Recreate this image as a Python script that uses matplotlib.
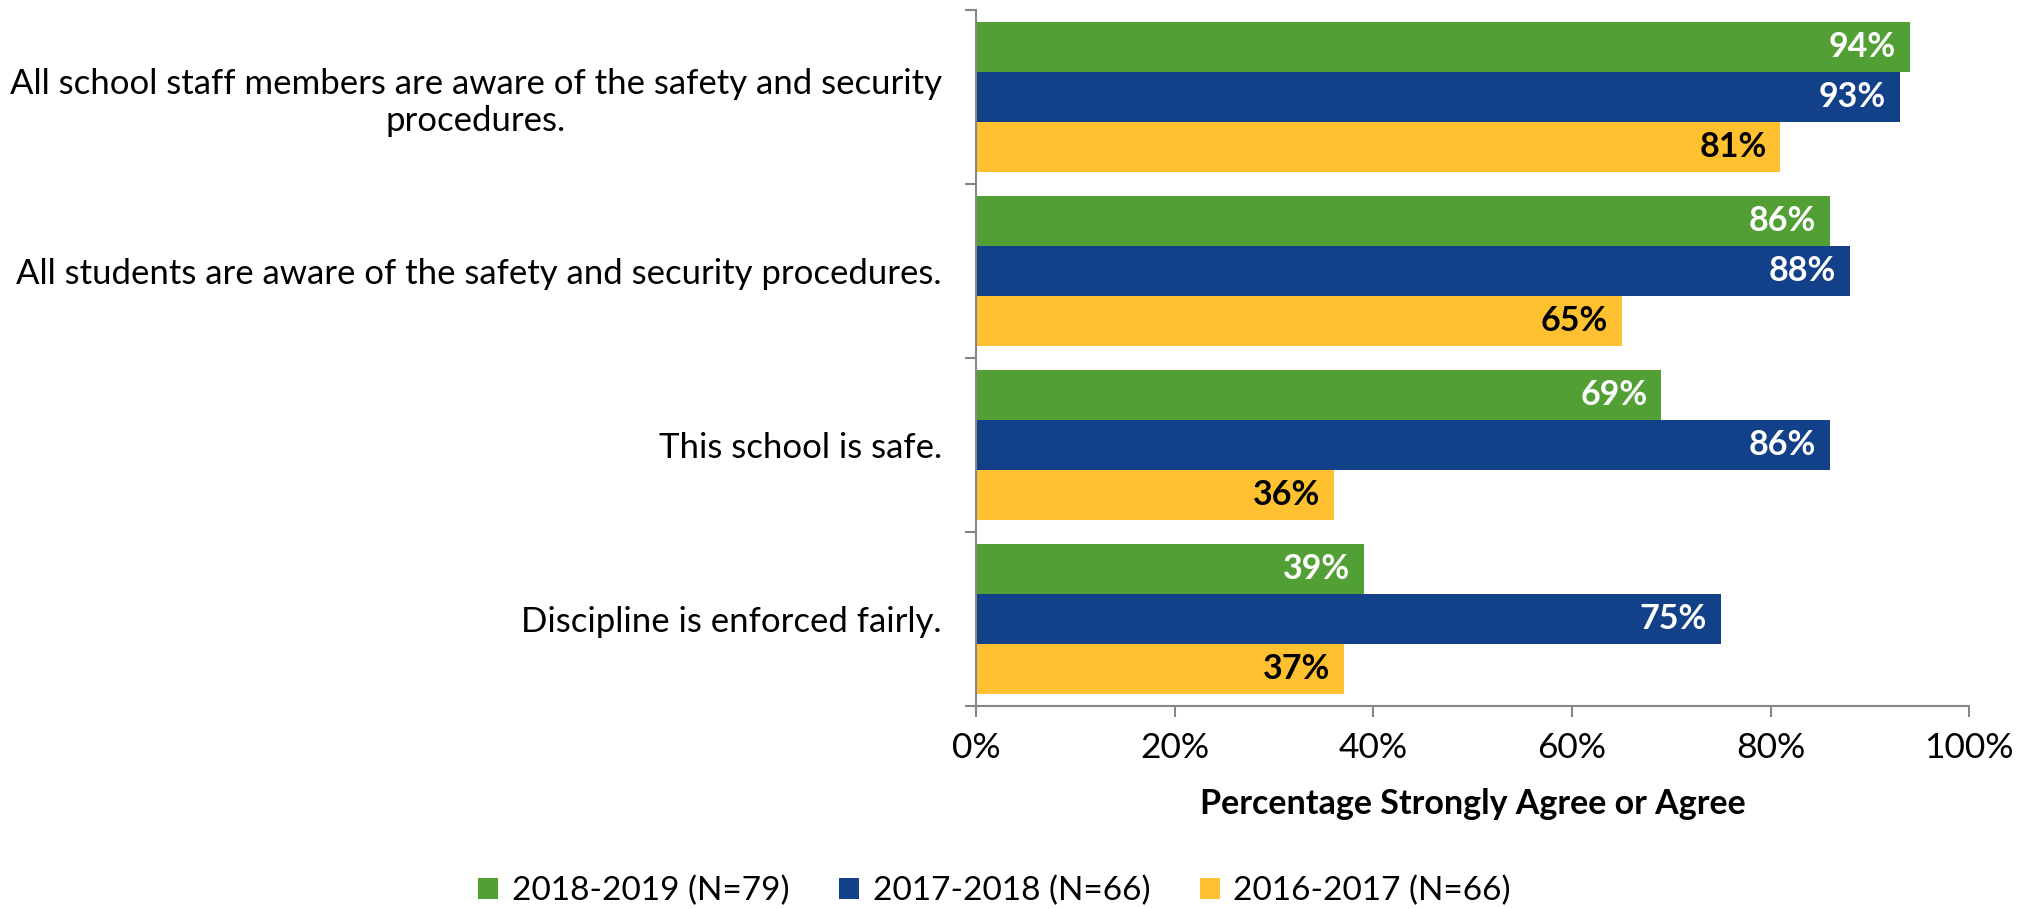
import matplotlib.pyplot as plt
import numpy as np

plt.rcParams['font.family'] = ['Lato', 'DejaVu Sans']

statements = [
    "All school staff members are aware of the safety and security\nprocedures.",
    "All students are aware of the safety and security procedures.",
    "This school is safe.",
    "Discipline is enforced fairly.",
]
years = ["2018-2019 (N=79)", "2017-2018 (N=66)", "2016-2017 (N=66)"]
vals_1819 = [94, 86, 69, 39]
vals_1718 = [93, 88, 86, 75]
vals_1617 = [81, 65, 36, 37]
xticks = [0, 20, 40, 60, 80, 100]

colors = ["#52a035", "#134189", "#ffc12f"]
text_colors = ["white", "white", "black"]

fig = plt.figure(figsize=(20.3, 9.09), dpi=100)
ax = fig.add_axes([0.481, 0.2233, 0.489, 0.766])

series = [vals_1819, vals_1718, vals_1617]
n = len(statements)
ypos = np.arange(n)
h = 0.287
for i, vals in enumerate(series):
    y = ypos + (i - 1) * h
    bars = ax.barh(y, vals, height=h, color=colors[i], label=years[i])
    for b, v in zip(bars, vals):
        ax.text(v - 1.4, b.get_y() + h / 2, f"{v}%", ha='right', va='center',
                color=text_colors[i], fontsize=24.5, fontweight='bold')

ax.set_ylim(n - 0.5, -0.5)
ax.set_xlim(0, 100)
ax.set_yticks(np.arange(-0.5, n, 1))
ax.set_yticklabels([])
ax.set_yticks(ypos, minor=True)
ax.set_yticklabels(statements, minor=True, fontsize=25, multialignment='center',
                   linespacing=1.2)
ax.tick_params(axis='y', which='minor', length=0, pad=25)
ax.tick_params(axis='y', which='major', length=8, color='#868686', width=1.5)
ax.set_xticks(xticks)
ax.set_xticklabels([f"{t}%" for t in xticks], fontsize=25.5)
ax.tick_params(axis='x', length=8, color='#868686', width=1.5, pad=11)
ax.set_xlabel("Percentage Strongly Agree or Agree", fontsize=24.5, fontweight='bold', labelpad=17)

for s in ['top', 'right']:
    ax.spines[s].set_visible(False)
for s in ['left', 'bottom']:
    ax.spines[s].set_color('#868686')
    ax.spines[s].set_linewidth(1.5)

fig.legend(loc='lower center', bbox_to_anchor=(0.49, -0.03), ncol=3, frameon=False,
           fontsize=24, handlelength=0.6, handleheight=0.6, columnspacing=1.5,
           handletextpad=0.4)

fig.savefig("out.png", dpi=100)
